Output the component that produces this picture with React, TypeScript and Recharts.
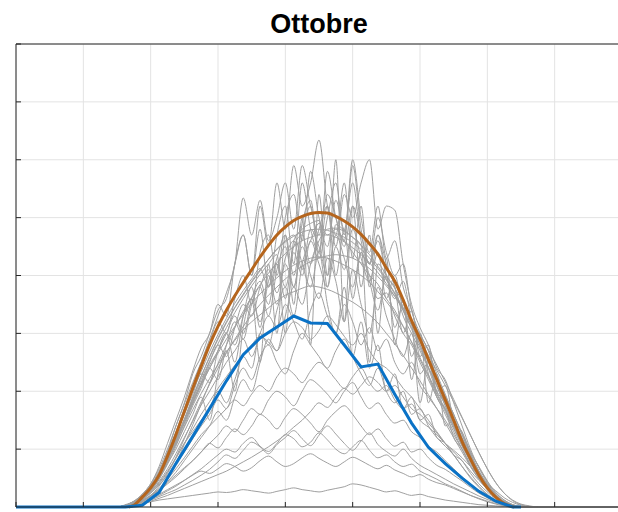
import React from "react";
import { LineChart, Line, XAxis, YAxis, CartesianGrid } from "recharts";

// x axis in hours, y axis in W/m2
const hourTicks = [0, 2, 4, 6, 8, 10, 12, 14, 16, 18];
const valueTicks = [0, 100, 200, 300, 400, 500, 600, 700, 800];

// quarter-hour sample times of the daily profiles
const dayHours = [
  2.75, 3, 3.25, 3.5, 3.75, 4, 4.25, 4.5, 4.75, 5,
  5.25, 5.5, 5.75, 6, 6.25, 6.5, 6.75, 7, 7.25, 7.5,
  7.75, 8, 8.25, 8.5, 8.75, 9, 9.25, 9.5, 9.75, 10,
  10.25, 10.5, 10.75, 11, 11.25, 11.5, 11.75, 12, 12.25, 12.5,
  12.75, 13, 13.25, 13.5, 13.75, 14, 14.25, 14.5, 14.75, 15,
  15.25, 15.5,
];

// one profile per day of the month (grey)
const days: number[][] = [
  [0,0,2,6,14,28,48,78,112,150,188,225,260,292,320,345,368,390,410,428,445,458,468,475,479,480,478,473,466,457,445,430,412,392,368,340,307,275,242,208,175,142,108,80,54,33,17,7,2,0,0,0],
  [0,0,3,9,20,36,58,86,118,150,182,212,240,266,290,312,333,352,368,383,396,408,418,425,430,432,430,425,418,410,400,388,372,355,335,312,285,258,228,198,168,138,106,80,56,36,20,9,3,0,0,0],
  [0,0,4,10,22,40,70,110,150,190,235,275,300,350,330,420,470,400,520,450,560,480,590,520,560,634,520,470,560,430,520,380,470,420,380,300,340,260,280,200,210,150,130,95,70,45,25,12,4,0,0,0],
  [0,0,3,8,18,35,60,95,140,180,230,260,300,340,360,420,470,400,480,380,470,520,420,560,480,440,520,400,480,360,440,390,340,400,310,350,260,300,230,190,170,120,100,70,48,30,16,6,2,0,0,0],
  [0,0,2,5,10,15,22,30,38,46,55,62,58,66,75,70,62,68,80,88,78,70,75,85,92,84,76,70,78,86,80,72,66,72,64,58,52,56,48,42,38,32,26,20,15,10,6,3,1,0,0,0],
  [0,0,1,3,6,9,12,14,16,18,20,22,24,26,25,27,30,28,26,24,27,30,33,30,28,26,29,32,35,40,38,34,30,26,28,24,20,22,18,15,12,10,8,6,4,3,2,1,0,0,0,0],
  [0,0,2,6,12,20,30,42,55,68,80,95,110,102,120,135,125,140,160,150,135,155,170,160,145,130,150,165,175,160,140,125,135,118,105,112,95,100,85,72,65,55,45,34,24,16,9,4,1,0,0,0],
  [0,0,2,7,16,30,50,78,108,138,168,196,222,246,268,288,306,320,332,344,356,366,372,378,382,380,376,370,362,354,344,332,318,300,282,262,240,218,194,170,145,120,95,70,50,32,18,8,2,0,0,0],
  [0,0,3,9,20,36,58,90,125,160,195,230,215,270,300,250,330,380,310,400,350,420,380,450,400,360,430,390,320,410,350,300,380,330,290,260,300,230,250,190,170,140,110,80,55,35,19,8,2,0,0,0],
  [0,0,2,6,14,26,42,62,85,110,130,150,170,200,180,220,260,240,300,280,340,380,330,420,460,490,470,480,460,440,420,400,385,360,340,312,285,255,225,195,165,135,105,78,52,32,17,7,2,0,0,0],
  [0,0,3,8,18,34,55,84,118,152,190,226,258,290,318,344,366,388,408,428,446,460,470,420,380,440,350,300,380,260,320,240,280,200,230,170,190,150,160,120,110,90,80,58,40,26,14,6,2,0,0,0],
  [0,0,2,6,14,24,38,55,75,95,118,140,160,185,170,210,240,220,260,280,250,230,270,300,280,260,240,270,290,260,230,210,240,200,180,200,160,170,140,120,105,90,70,52,36,22,12,5,1,0,0,0],
  [0,0,2,7,16,30,52,80,112,145,178,210,240,270,300,330,300,360,390,350,420,380,450,470,420,480,520,450,540,500,560,600,480,520,513,420,350,310,280,240,220,180,140,100,68,42,22,9,2,0,0,0],
  [0,0,2,5,10,18,28,40,52,66,80,95,110,124,140,130,150,170,160,185,200,190,175,200,220,210,195,180,200,215,190,170,180,160,145,150,130,120,105,95,80,66,52,40,28,18,10,4,1,0,0,0],
  [0,0,3,9,20,38,62,95,130,170,210,250,290,330,370,420,534,470,530,460,500,560,480,590,520,470,540,500,450,520,470,420,460,400,380,330,300,270,240,210,175,145,112,82,56,34,18,7,2,0,0,0],
  [0,0,2,6,14,28,48,74,105,140,175,205,240,220,280,320,290,350,380,330,410,450,380,470,520,430,500,560,470,600,500,440,520,430,460,380,340,290,270,220,190,160,125,92,62,38,20,8,2,0,0,0],
  [0,0,2,6,13,24,40,60,84,110,135,160,182,205,225,245,262,280,295,285,270,300,320,310,290,305,330,315,295,280,300,270,250,240,225,205,190,170,150,130,110,90,70,50,34,20,10,4,1,0,0,0],
  [0,0,0,2,6,14,28,48,76,108,142,178,214,248,280,310,338,362,384,404,422,438,450,460,466,470,470,466,458,448,436,422,405,386,364,340,314,288,262,236,210,182,154,124,94,66,42,24,12,5,2,0],
  [0,0,1,4,8,14,20,28,36,46,56,66,78,90,100,95,110,120,105,96,110,125,118,104,112,128,116,100,92,104,115,98,85,90,78,70,74,62,55,48,40,34,27,20,14,9,5,2,1,0,0,0],
  [0,0,3,8,18,32,52,80,110,145,180,215,250,280,260,310,350,330,380,410,370,430,460,410,480,450,400,470,430,380,440,400,360,370,330,300,280,250,220,190,160,130,100,72,48,30,16,6,2,0,0,0],
  [0,0,3,10,22,40,66,100,140,178,215,250,285,320,300,360,400,350,440,470,400,500,540,460,580,500,450,530,480,560,460,420,470,400,360,390,320,280,250,210,180,150,118,88,60,38,20,8,2,0,0,0],
  [0,0,2,7,16,30,50,80,115,150,186,220,252,282,310,336,360,382,402,420,436,300,460,480,490,495,380,488,478,466,452,250,420,400,378,352,320,180,255,222,188,154,118,86,58,36,19,8,2,0,0,0],
  [0,0,2,6,12,20,32,48,66,85,105,125,140,155,170,185,175,195,210,200,225,240,230,215,235,250,238,220,205,225,240,215,200,210,185,170,178,150,138,125,110,98,85,70,55,40,28,16,8,3,1,0],
  [0,0,3,9,18,30,50,75,100,130,160,190,150,230,270,200,310,360,250,420,300,470,350,500,280,540,400,600,320,520,380,470,300,430,280,360,220,300,180,230,140,150,110,80,55,34,18,7,2,0,0,0],
  [0,0,1,3,6,10,15,20,26,32,38,44,50,56,62,70,78,86,95,104,114,125,138,150,165,180,172,190,205,195,210,225,215,200,210,190,170,160,145,128,110,95,80,62,46,32,20,10,4,1,0,0],
  [0,0,2,8,18,32,54,84,116,150,184,214,245,270,300,280,330,360,320,390,420,360,440,400,460,420,380,450,410,480,430,390,440,360,400,340,310,280,240,200,180,150,120,90,62,40,22,9,3,0,0,0],
  [0,0,1,4,10,20,36,58,86,118,150,182,212,240,266,290,312,332,350,366,380,394,406,416,424,430,434,436,434,430,422,412,398,382,364,344,322,298,272,245,216,186,155,124,94,66,42,24,11,4,1,0],
  [0,0,2,4,8,12,18,24,30,38,46,55,65,78,90,84,98,112,104,92,108,120,132,118,106,124,140,126,110,98,114,128,108,96,88,100,84,72,64,56,48,40,33,26,19,13,8,4,1,0,0,0],
  [0,0,3,9,20,36,60,92,128,165,200,234,268,298,326,352,374,394,412,380,430,470,400,490,530,440,580,500,460,590,480,420,500,440,400,420,340,300,270,230,195,160,125,92,62,38,20,8,2,0,0,0],
  [0,0,2,6,14,26,44,66,92,120,148,176,200,225,250,270,290,260,300,330,310,350,320,290,340,370,330,300,350,320,280,310,270,290,250,230,250,210,190,170,150,125,100,75,52,33,18,8,2,0,0,0],
  [0,0,2,5,10,18,30,44,60,80,100,120,140,165,150,190,220,200,250,290,270,330,380,350,420,460,480,482,476,466,452,436,416,394,370,344,316,286,256,224,192,160,128,96,68,44,25,12,4,1,0,0],
];

// clear-sky envelope (orange)
const clearSkyHours = [
  3.35, 3.5, 3.75, 4, 4.25, 4.5, 4.75, 5, 5.25, 5.5, 5.75, 6, 6.25, 6.5, 6.75, 7,
  7.25, 7.5, 7.75, 8, 8.25, 8.5, 8.75, 9, 9.25, 9.5, 9.75, 10, 10.25, 10.5, 10.75,
  11, 11.25, 11.5, 11.75, 12, 12.25, 12.5, 12.75, 13, 13.25, 13.5, 13.75, 14,
  14.25, 14.5, 14.8,
];
const clearSky = [
  0, 3, 17, 33, 55, 88, 125, 165, 205, 243, 280, 312, 340, 365, 388, 410,
  432, 452, 470, 484, 495, 502, 507, 509, 508, 502, 494, 484, 471, 455, 437,
  413, 390, 358, 322, 290, 255, 220, 185, 150, 113, 83, 55, 33,
  17, 6, 0,
];

// monthly mean (blue), half-hour steps
const meanHours = [
  0, 3.25, 3.75, 4.25, 4.75, 5.25, 5.75, 6.25, 6.75, 7.25, 7.75, 8.25, 8.75,
  9.25, 9.75, 10.25, 10.75, 11.25, 11.75, 12.25, 12.75, 13.25, 13.75, 14.25,
  14.75, 15,
];
const meanValues = [
  0, 0, 3, 25, 75, 122, 170, 218, 263, 292, 311, 330, 318,
  317, 280, 242, 247, 195, 145, 103, 75, 50, 27, 10,
  0, 0,
];

const toPoints = (hours: number[], values: number[]) =>
  hours.map((h, i) => ({ h, v: values[i] }));

const dayData = days.map((d) => [
  { h: 0, v: 0 },
  ...toPoints(dayHours, d),
  { h: 18, v: 0 },
]);
const clearSkyData = toPoints(clearSkyHours, clearSky);
const meanData = toPoints(meanHours, meanValues);

const axisColor = "#262626";
const noLabel = () => <g />;

export default function App() {
  return (
    <div
      style={{
        position: "fixed",
        left: 0,
        top: 0,
        width: 618,
        height: 512,
        overflow: "hidden",
        background: "#fff",
      }}
    >
      <LineChart
        width={622}
        height={512}
        margin={{ top: 44, right: 0, bottom: 5, left: 16 }}
        style={{ position: "absolute", left: 0, top: 0 }}
      >
        <CartesianGrid stroke="#e3e3e3" />
        <XAxis
          dataKey="h"
          type="number"
          domain={[0, 18]}
          ticks={hourTicks}
          mirror
          tick={noLabel}
          tickSize={5}
          stroke={axisColor}
        />
        <XAxis
          xAxisId="top"
          orientation="top"
          dataKey="h"
          type="number"
          domain={[0, 18]}
          ticks={hourTicks}
          mirror
          tick={noLabel}
          tickSize={5}
          stroke={axisColor}
        />
        <YAxis
          type="number"
          domain={[0, 800]}
          ticks={valueTicks}
          mirror
          tick={noLabel}
          tickSize={5}
          stroke={axisColor}
        />
        <YAxis
          yAxisId="right"
          orientation="right"
          type="number"
          domain={[0, 800]}
          ticks={valueTicks}
          mirror
          tick={noLabel}
          tickSize={5}
          stroke={axisColor}
        />
        {dayData.map((d, i) => (
          <Line
            key={`day-${i}`}
            data={d}
            dataKey="v"
            type="monotone"
            stroke="#a0a0a0"
            strokeWidth={1}
            dot={false}
            activeDot={false}
            isAnimationActive={false}
          />
        ))}
        <Line
          data={clearSkyData}
          dataKey="v"
          type="monotone"
          stroke="#b5651d"
          strokeWidth={3}
          dot={false}
          activeDot={false}
          isAnimationActive={false}
        />
        <Line
          data={meanData}
          dataKey="v"
          type="linear"
          stroke="#0a72c6"
          strokeWidth={3}
          dot={false}
          activeDot={false}
          isAnimationActive={false}
        />
      </LineChart>
      <div
        style={{
          position: "absolute",
          left: 16,
          width: 606,
          top: 11,
          textAlign: "center",
          fontFamily: "'Liberation Sans', Arial, sans-serif",
          fontWeight: "bold",
          fontSize: 27,
          lineHeight: "27px",
          color: "#000",
        }}
      >
        Ottobre
      </div>
    </div>
  );
}
